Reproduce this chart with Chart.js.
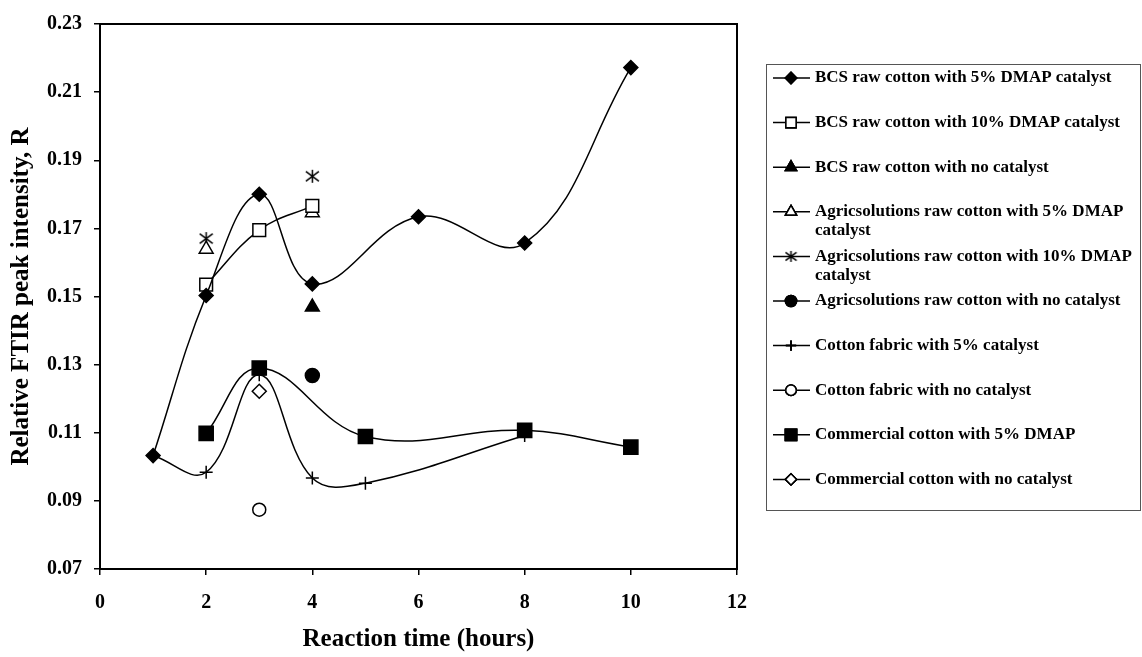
<!DOCTYPE html>
<html>
<head>
<meta charset="utf-8">
<script src="https://cdn.jsdelivr.net/npm/chart.js@4.4.0/dist/chart.umd.min.js"></script>
<style>
  html, body { margin: 0; padding: 0; background: #fff; }
  #wrap { width: 1142px; height: 657px; }
</style>
</head>
<body>
<div id="wrap"><canvas id="c" width="1142" height="657"></canvas></div>
<script>
// reaction time (hours) and relative FTIR peak intensity R for each sample
const bcs5Time = [1, 2, 3, 4, 6, 8, 10];
const bcs5R = [0.1033, 0.1503, 0.1800, 0.1537, 0.1734, 0.1657, 0.2172];
const bcs10Time = [2, 3, 4];
const bcs10R = [0.1535, 0.1695, 0.1766];
const bcsNoTime = [4];
const bcsNoR = [0.1469];
const agri5Time = [2, 4];
const agri5R = [0.1639, 0.1746];
const agri10Time = [2, 4];
const agri10R = [0.1670, 0.1853];
const agriNoTime = [4];
const agriNoR = [0.1268];
const fabric5Time = [1, 2, 3, 4, 5, 8];
const fabric5R = [0.1033, 0.0984, 0.1270, 0.0967, 0.0952, 0.1092];
const fabricNoTime = [3];
const fabricNoR = [0.0874];
const comm5Time = [2, 3, 5, 8, 10];
const comm5R = [0.1098, 0.1290, 0.1089, 0.1107, 0.1058];
const commNoTime = [3];
const commNoR = [0.1222];

const seriesNames = [
  'BCS raw cotton with 5% DMAP catalyst',
  'BCS raw cotton with 10% DMAP catalyst',
  'BCS raw cotton with no catalyst',
  'Agricsolutions raw cotton with 5% DMAP catalyst',
  'Agricsolutions raw cotton with 10% DMAP catalyst',
  'Agricsolutions raw cotton with no catalyst',
  'Cotton fabric with 5% catalyst',
  'Cotton fabric with no catalyst',
  'Commercial cotton with 5% DMAP',
  'Commercial cotton with no catalyst'
];

const yTicks = [0.07, 0.09, 0.11, 0.13, 0.15, 0.17, 0.19, 0.21, 0.23];
const xTicks = [0, 2, 4, 6, 8, 10, 12];

const FONT = "'Liberation Serif', 'Times New Roman', serif";

// asterisk marker (vertical bar + X), Excel style
function makeAsterisk(size) {
  const cv = document.createElement('canvas');
  cv.width = size; cv.height = size;
  const g = cv.getContext('2d');
  g.strokeStyle = '#000';
  g.lineWidth = 1.5;
  const m = size / 2, e = size / 2 - 1;
  g.beginPath();
  g.moveTo(m, m - e); g.lineTo(m, m + e);
  g.moveTo(m - e, m - e * 0.75); g.lineTo(m + e, m + e * 0.75);
  g.moveTo(m - e, m + e * 0.75); g.lineTo(m + e, m - e * 0.75);
  g.stroke();
  return cv;
}
const asterisk = makeAsterisk(15);
const asteriskSmall = makeAsterisk(13);

function pts(xs, ys) {
  return xs.map((x, i) => ({ x: x, y: ys[i] }));
}

function series(i, xs, ys, style, radius, filled, line) {
  return {
    label: seriesNames[i],
    data: pts(xs, ys),
    showLine: line,
    borderColor: '#000',
    borderWidth: 1.5,
    tension: 0.4,
    pointStyle: style,
    pointRadius: radius,
    pointHoverRadius: radius,
    pointBackgroundColor: filled ? '#000' : '#fff',
    pointBorderColor: '#000',
    pointBorderWidth: 1.5,
    fill: false
  };
}

const datasets = [
  series(0, bcs5Time, bcs5R, 'rectRot', 7, true, true),
  series(1, bcs10Time, bcs10R, 'rect', 9, false, true),
  series(2, bcsNoTime, bcsNoR, 'triangle', 8, true, false),
  series(3, agri5Time, agri5R, 'triangle', 8, false, false),
  series(4, agri10Time, agri10R, asterisk, 7, false, false),
  series(5, agriNoTime, agriNoR, 'circle', 7, true, false),
  series(6, fabric5Time, fabric5R, 'cross', 6.5, false, true),
  series(7, fabricNoTime, fabricNoR, 'circle', 6.5, false, false),
  series(8, comm5Time, comm5R, 'rect', 10, true, true),
  series(9, commNoTime, commNoR, 'rectRot', 7, false, false)
];

// plot frame (top + right edges)
const framePlugin = {
  id: 'frame',
  afterDatasetsDraw(chart) {
    const a = chart.chartArea, ctx = chart.ctx;
    ctx.save();
    ctx.strokeStyle = '#000';
    ctx.lineWidth = 2;
    ctx.strokeRect(a.left, a.top, a.right - a.left, a.bottom - a.top);
    ctx.restore();
  }
};

// boxed legend at the right
const legendPlugin = {
  id: 'boxLegend',
  afterDraw(chart) {
    const ctx = chart.ctx;
    const box = { left: 766, top: 64, right: 1141, bottom: 510 };
    ctx.save();
    ctx.strokeStyle = '#555';
    ctx.lineWidth = 1;
    ctx.strokeRect(box.left + 0.5, box.top + 0.5, box.right - box.left - 1, box.bottom - box.top);
    ctx.font = 'bold 17px ' + FONT;
    ctx.fillStyle = '#000';
    ctx.textBaseline = 'middle';
    const textX = 815, maxW = 322;
    chart.data.datasets.forEach((ds, i) => {
      const y = 78 + i * 44.6;
      ctx.strokeStyle = '#000';
      ctx.lineWidth = 1.5;
      ctx.beginPath();
      ctx.moveTo(773, y); ctx.lineTo(810, y);
      ctx.stroke();
      const style = ds.pointStyle === asterisk ? asteriskSmall : ds.pointStyle;
      Chart.helpers.drawPoint(ctx, {
        pointStyle: style,
        radius: ds.pointRadius * 0.8,
        rotation: 0,
        borderWidth: 1.5
      }, 791, y);
      ctx.fillStyle = ds.pointBackgroundColor;
      ctx.strokeStyle = '#000';
      ctx.beginPath();
      if (typeof style === 'string') {
        Chart.helpers.drawPoint(ctx, { pointStyle: style, radius: ds.pointRadius * 0.8, rotation: 0, borderWidth: 1.5 }, 791, y);
        if (style !== 'cross') ctx.fill();
        ctx.stroke();
      }
      // wrap the label
      const words = ds.label.split(' ');
      const lines = [];
      let cur = '';
      words.forEach(w => {
        const t = cur ? cur + ' ' + w : w;
        if (ctx.measureText(t).width > maxW && cur) { lines.push(cur); cur = w; }
        else cur = t;
      });
      lines.push(cur);
      ctx.fillStyle = '#000';
      lines.forEach((ln, k) => ctx.fillText(ln, textX, y + k * 19));
    });
    ctx.restore();
  }
};

new Chart(document.getElementById('c'), {
  type: 'scatter',
  data: { datasets: datasets },
  options: {
    responsive: false,
    animation: false,
    events: [],
    layout: { padding: { left: 0, top: 20, right: 405, bottom: 0 } },
    plugins: { legend: { display: false }, tooltip: { enabled: false } },
    scales: {
      x: {
        type: 'linear',
        min: 0, max: 12,
        afterFit(scale) { scale.height = 88; },
        afterBuildTicks(scale) { scale.ticks = xTicks.map(v => ({ value: v })); },
        ticks: {
          color: '#000',
          padding: 16,
          font: { family: FONT, size: 20, weight: 'bold' },
          callback: v => String(v)
        },
        grid: { drawOnChartArea: false, drawTicks: true, tickLength: 6, color: '#000', lineWidth: 1.5 },
        border: { display: true, color: '#000', width: 2 },
        title: {
          display: true,
          text: 'Reaction time (hours)',
          color: '#000',
          padding: { top: 0, bottom: 2 },
          font: { family: FONT, size: 25, weight: 'bold' }
        }
      },
      y: {
        type: 'linear',
        min: 0.07, max: 0.23,
        afterFit(scale) { scale.width = 100; },
        afterBuildTicks(scale) { scale.ticks = yTicks.map(v => ({ value: v })); },
        ticks: {
          color: '#000',
          padding: 12,
          font: { family: FONT, size: 20, weight: 'bold' },
          callback: v => v.toFixed(2)
        },
        grid: { drawOnChartArea: false, drawTicks: true, tickLength: 6, color: '#000', lineWidth: 1.5 },
        border: { display: true, color: '#000', width: 2 },
        title: {
          display: true,
          text: 'Relative FTIR peak intensity, R',
          color: '#000',
          padding: { top: 7, bottom: 0 },
          font: { family: FONT, size: 25, weight: 'bold' }
        }
      }
    }
  },
  plugins: [framePlugin, legendPlugin]
});
</script>
</body>
</html>
